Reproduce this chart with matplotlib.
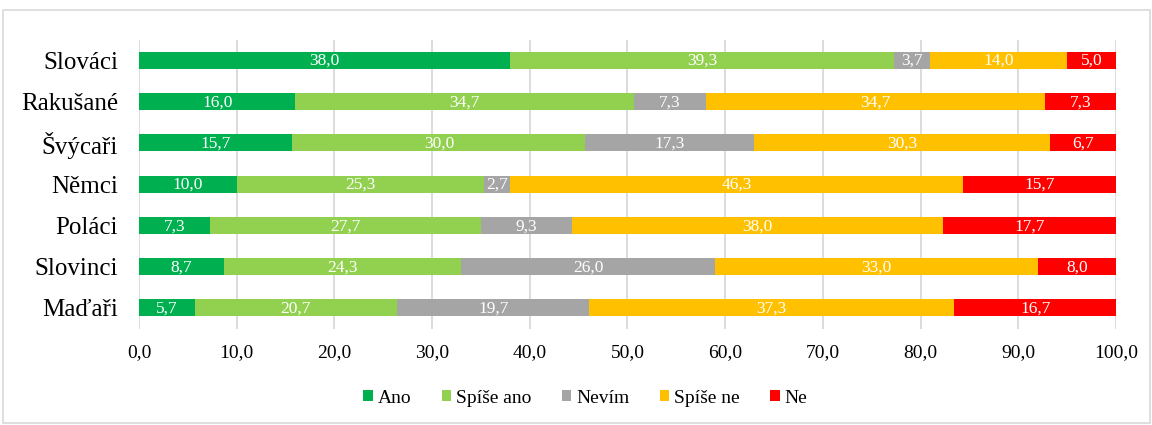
import matplotlib.pyplot as plt
from matplotlib.patches import Rectangle

plt.rcParams['font.family'] = ['Liberation Serif', 'DejaVu Serif']

countries = ["Slováci", "Rakušané", "Švýcaři", "Němci", "Poláci", "Slovinci", "Maďaři"]
series = ["Ano", "Spíše ano", "Nevím", "Spíše ne", "Ne"]
ano = [38.0, 16.0, 15.7, 10.0, 7.3, 8.7, 5.7]
spise_ano = [39.3, 34.7, 30.0, 25.3, 27.7, 24.3, 20.7]
nevim = [3.7, 7.3, 17.3, 2.7, 9.3, 26.0, 19.7]
spise_ne = [14.0, 34.7, 30.3, 46.3, 38.0, 33.0, 37.3]
ne = [5.0, 7.3, 6.7, 15.7, 17.7, 8.0, 16.7]
colors = ["#00B050", "#92D050", "#A5A5A5", "#FFC000", "#FF0000"]

fig = plt.figure(figsize=(11.52, 4.25), dpi=100)
ax = fig.add_axes([0.1207, 0.2268, 0.848, 0.6802])

# frame around the chart
fig.patches.append(Rectangle((0.003, 0.005), 0.995, 0.972, transform=fig.transFigure,
                             fill=False, edgecolor="#D9D9D9", linewidth=1.2))

y = list(range(len(countries)))
left = [0.0] * len(countries)
for name, vals, col in zip(series, [ano, spise_ano, nevim, spise_ne, ne], colors):
    bars = ax.barh(y, vals, left=left, height=0.41, color=col, label=name, zorder=3)
    for b, v in zip(bars, vals):
        ax.text(b.get_x() + b.get_width() / 2, b.get_y() + b.get_height() / 2 + 0.02,
                f"{v:.1f}".replace(".", ","), ha="center", va="center",
                color="white", fontsize=12.5, zorder=4)
    left = [l + v for l, v in zip(left, vals)]

ax.set_xlim(0, 100)
ax.set_ylim(len(countries) - 0.5, -0.5)
ax.set_xticks(range(0, 101, 10))
ax.set_xticklabels([f"{t:.1f}".replace(".", ",") for t in range(0, 101, 10)], fontsize=14)
ax.set_yticks(y)
ax.set_yticklabels(countries, fontsize=18)
ax.tick_params(length=0)
ax.tick_params(axis="y", pad=15)
ax.tick_params(axis="x", pad=11)
for s in ax.spines.values():
    s.set_visible(False)
ax.grid(axis="x", color="#D9D9D9", linewidth=1.3, zorder=0)
ax.set_axisbelow(True)

fig.legend(*ax.get_legend_handles_labels(), loc="center", bbox_to_anchor=(0.508, 0.063),
           ncol=5, frameon=False, prop={"family": "Liberation Serif", "size": 14},
           handlelength=0.5, handleheight=0.5, handletextpad=0.25,
           columnspacing=1.55)

fig.savefig("out.png", dpi=100)
